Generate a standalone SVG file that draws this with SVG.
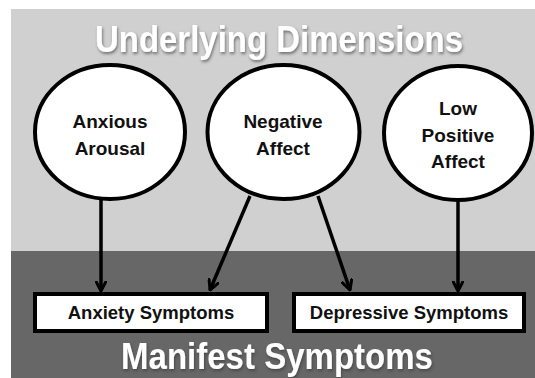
<svg xmlns="http://www.w3.org/2000/svg" width="535" height="378" viewBox="0 0 535 378">
<defs>
<style>
.node ellipse{fill:#fff;stroke:#000;stroke-width:4}
.box rect{fill:#fff;stroke:#000;stroke-width:4}
.lbl{font-family:"Liberation Sans",Arial,sans-serif;font-weight:bold;fill:#111;text-anchor:middle}
.c{font-size:19px}
.b{font-size:18.5px}
.title{font-family:"Liberation Sans",Arial,sans-serif;font-weight:bold;fill:#fff;text-anchor:middle;filter:url(#sh)}
.conn line{stroke:#000;stroke-width:3.5;marker-end:url(#ah)}
</style>
<filter id="sh" x="-10%" y="-30%" width="120%" height="160%">
<feDropShadow dx="1" dy="2" stdDeviation="1.5" flood-color="#333" flood-opacity="0.6"/>
</filter>
<marker id="ah" viewBox="0 0 12 12" refX="10.5" refY="6" markerWidth="12" markerHeight="12" markerUnits="userSpaceOnUse" orient="auto">
<path d="M1,1 L10.5,6 L1,11" fill="none" stroke="#000" stroke-width="3" stroke-linecap="round" stroke-linejoin="round"/>
</marker>
</defs>
<rect x="0" y="0" width="535" height="378" fill="#fff"/>
<rect x="11" y="9" width="524" height="242" fill="#d0d0d0"/>
<rect x="11" y="251" width="524" height="127" fill="#676767"/>
<text class="title" x="279" y="52" font-size="37" textLength="368" lengthAdjust="spacingAndGlyphs">Underlying Dimensions</text>
<text class="title" x="277" y="369" font-size="36" textLength="312" lengthAdjust="spacingAndGlyphs">Manifest Symptoms</text>
<g class="conn">
<line x1="101" y1="200" x2="101" y2="291"/>
<line x1="250" y1="196" x2="210" y2="290"/>
<line x1="318" y1="196" x2="350" y2="290"/>
<line x1="458" y1="202" x2="458" y2="291"/>
</g>
<g id="anxious-arousal" class="node">
<ellipse cx="110" cy="132" rx="75" ry="67"/>
<text class="lbl c" x="110" y="128">Anxious</text>
<text class="lbl c" x="110" y="155">Arousal</text>
</g>
<g id="negative-affect" class="node">
<ellipse cx="283.5" cy="132" rx="76" ry="67"/>
<text class="lbl c" x="283" y="128">Negative</text>
<text class="lbl c" x="283" y="155">Affect</text>
</g>
<g id="low-positive-affect" class="node">
<ellipse cx="458" cy="133" rx="74" ry="67"/>
<text class="lbl c" x="458" y="115">Low</text>
<text class="lbl c" x="458" y="142">Positive</text>
<text class="lbl c" x="458" y="168">Affect</text>
</g>
<g id="anxiety-symptoms" class="box">
<rect x="35" y="294" width="232" height="37"/>
<text class="lbl b" x="151" y="319">Anxiety Symptoms</text>
</g>
<g id="depressive-symptoms" class="box">
<rect x="294" y="294" width="230" height="37"/>
<text class="lbl b" x="409" y="319">Depressive Symptoms</text>
</g>
</svg>
